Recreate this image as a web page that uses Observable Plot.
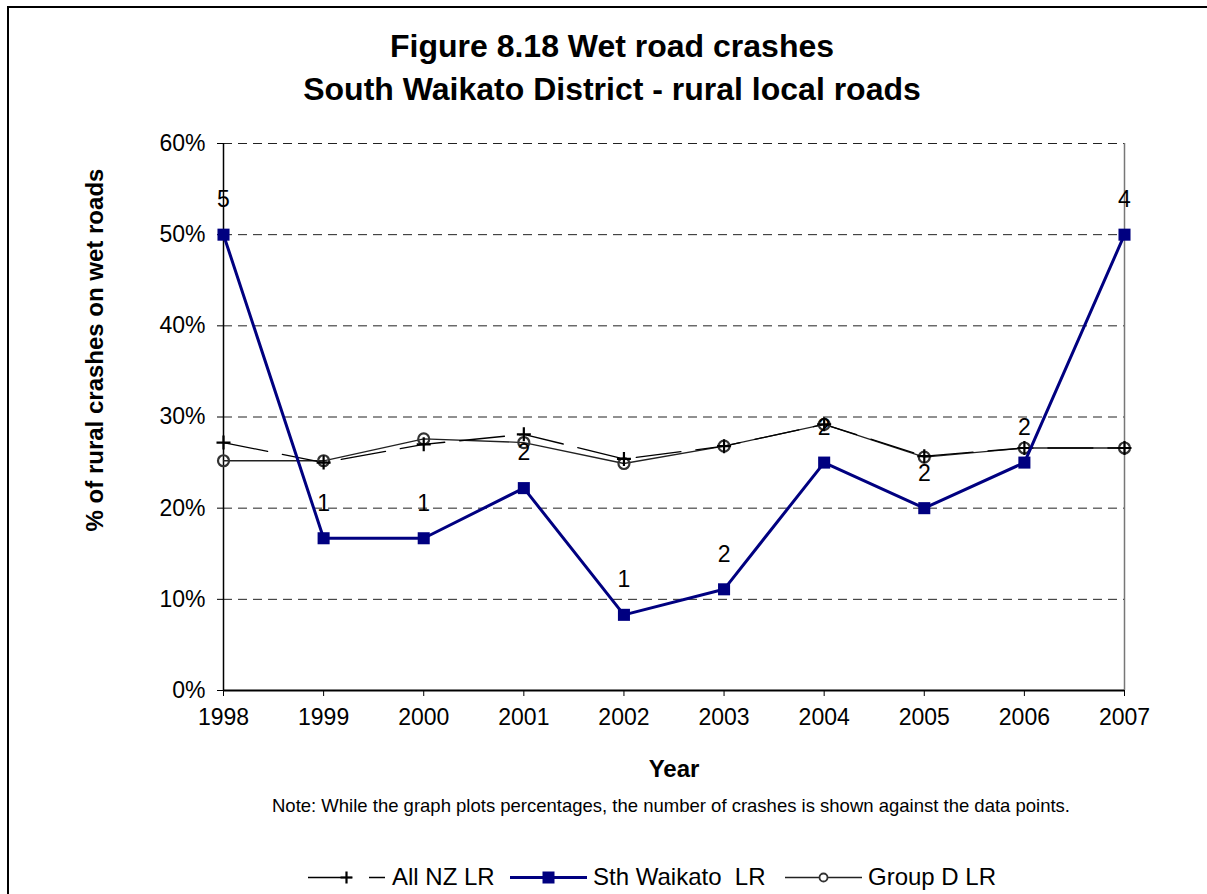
<!DOCTYPE html>
<html>
<head>
<meta charset="utf-8">
<script src="https://cdn.jsdelivr.net/npm/d3@7"></script>
<script src="https://cdn.jsdelivr.net/npm/@observablehq/plot@0.6"></script>
<style>
  html, body { margin: 0; padding: 0; background: #fff; }
  body { width: 1207px; height: 894px; position: relative; overflow: hidden; font-family: "Liberation Sans", Arial, sans-serif; color: #000; }
  #border { position: absolute; left: 7px; top: 6px; width: 1210px; height: 900px; border-left: 2px solid #000; border-top: 2px solid #000; box-sizing: border-box; }
  .title { position: absolute; left: 0; width: 1224px; text-align: center; font-weight: bold; font-size: 32px; line-height: 36px; }
  #chart { position: absolute; left: 0; top: 100px; }
  #note { position: absolute; left: 0; width: 1342px; text-align: center; top: 795px; font-size: 18.5px; line-height: 22px; }
  #legend { position: absolute; top: 863px; left: 0; width: 1207px; height: 28px; font-size: 24px; }
  .li { position: absolute; top: 0; height: 28px; white-space: pre; line-height: 28px; }
</style>
</head>
<body>
<div id="border"></div>
<div class="title" style="top:28px">Figure 8.18 Wet road crashes</div>
<div class="title" style="top:71px">South Waikato District - rural local roads</div>
<div id="chart"></div>
<div id="note">Note:  While the graph plots percentages, the number of crashes is shown against the data points.</div>
<div id="legend"></div>
<script>
const years = [1998, 1999, 2000, 2001, 2002, 2003, 2004, 2005, 2006, 2007];
const allNZ = [27.2, 25.0, 27.0, 28.1, 25.4, 26.8, 29.2, 25.7, 26.6, 26.6];
const sthWaikato = [50, 16.7, 16.7, 22.2, 8.3, 11.1, 25, 20, 25, 50];
const groupD = [25.2, 25.2, 27.6, 27.2, 24.9, 26.8, 29.2, 25.6, 26.6, 26.6];
const crashCounts = [5, 1, 1, 2, 1, 2, 2, 2, 2, 4];
const yTicks = [0, 10, 20, 30, 40, 50, 60];
const seriesNames = ["All NZ LR", "Sth Waikato  LR", "Group D LR"];
const xLabel = "Year";
const yLabel = "% of rural crashes on wet roads";

const rows = (vals) => years.map((y, i) => ({year: y, value: vals[i], count: crashCounts[i]}));
const nzRows = rows(allNZ), swRows = rows(sthWaikato), gdRows = rows(groupD);

const plusSymbol = {
  draw(ctx, size) {
    const r = Math.sqrt(size / Math.PI);
    ctx.moveTo(-r, 0); ctx.lineTo(r, 0);
    ctx.moveTo(0, -r); ctx.lineTo(0, r);
  }
};

const chart = Plot.plot({
  width: 1207, height: 690,
  marginLeft: 223, marginRight: 83, marginTop: 43, marginBottom: 100,
  style: {fontFamily: "'Liberation Sans', Arial, sans-serif", fontSize: "23px", color: "#000", background: "transparent", overflow: "visible"},
  x: {domain: [1998, 2007]},
  y: {domain: [0, 60]},
  marks: [
    Plot.ruleY(yTicks.filter(d => d > 0), {stroke: "#222", strokeWidth: 1, strokeDasharray: "9,6"}),
    Plot.ruleX([2007], {stroke: "#777", strokeWidth: 1.5}),
    Plot.ruleX([1998], {stroke: "#000", strokeWidth: 1.5}),
    Plot.axisY({ticks: yTicks, tickFormat: d => d + "%", tickSize: 6, tickPadding: 12, fontSize: 23, label: null}),
    Plot.axisX({ticks: years, tickFormat: d => String(d), tickSize: 6, tickPadding: 12, fontSize: 23,
      label: xLabel, labelAnchor: "center", labelOffset: 86, labelArrow: "none"}),
    Plot.text([yLabel], {frameAnchor: "left", text: d => d, rotate: -90, dx: -128, dy: -67,
      fontSize: 24, fontWeight: "bold", fill: "#000", textAnchor: "middle", lineAnchor: "middle"}),
    Plot.ruleY([0], {stroke: "#000", strokeWidth: 2}),
    // Group D LR
    Plot.line(gdRows, {x: "year", y: "value", stroke: "#222", strokeWidth: 1.3}),
    // All NZ LR
    Plot.line(nzRows, {x: "year", y: "value", stroke: "#000", strokeWidth: 1.3, strokeDasharray: "45,15"}),
    Plot.dot(gdRows, {x: "year", y: "value", r: 5.5, stroke: "#333", strokeWidth: 2.2, fill: "none"}),
    Plot.dot(nzRows, {x: "year", y: "value", symbol: plusSymbol, r: 7, stroke: "#000", strokeWidth: 2.2, fill: "none"}),
    // Sth Waikato LR
    Plot.line(swRows, {x: "year", y: "value", stroke: "#000080", strokeWidth: 3}),
    Plot.dot(swRows, {x: "year", y: "value", symbol: "square", r: 6.8, fill: "#000080", stroke: "none"}),
    Plot.text(swRows, {x: "year", y: "value", text: d => String(d.count), dy: -35, fontSize: 23, fill: "#000"})
  ]
});
const xl = chart.querySelector('[aria-label="x-axis label"]');
if (xl) { xl.setAttribute("font-weight", "bold"); xl.setAttribute("font-size", "24"); }
document.getElementById("chart").appendChild(chart);

// Legend
const legend = d3.select("#legend");
const items = [
  {name: seriesNames[0], x: 308, w: 77, text: 392},
  {name: seriesNames[1], x: 510, w: 77, text: 593},
  {name: seriesNames[2], x: 785, w: 77, text: 868}
];
items.forEach((it, i) => {
  const s = legend.append("svg").attr("width", it.w).attr("height", 28)
    .style("position", "absolute").style("left", it.x + "px").style("top", "0px");
  const cy = 14.5, cx = it.w / 2;
  if (i === 0) {
    s.append("line").attr("x1", 0).attr("x2", it.w).attr("y1", cy).attr("y2", cy)
      .attr("stroke", "#000").attr("stroke-width", 1.3).attr("stroke-dasharray", "44,17");
    s.append("path").attr("d", `M${cx - 6},${cy}H${cx + 6}M${cx},${cy - 6}V${cy + 6}`)
      .attr("stroke", "#000").attr("stroke-width", 2.2);
  } else if (i === 1) {
    s.append("line").attr("x1", 0).attr("x2", it.w).attr("y1", cy).attr("y2", cy)
      .attr("stroke", "#000080").attr("stroke-width", 3);
    s.append("rect").attr("x", cx - 6).attr("y", cy - 6).attr("width", 12).attr("height", 12).attr("fill", "#000080");
  } else {
    s.append("line").attr("x1", 0).attr("x2", it.w).attr("y1", cy).attr("y2", cy)
      .attr("stroke", "#222").attr("stroke-width", 1.3);
    s.append("circle").attr("cx", cx).attr("cy", cy).attr("r", 4).attr("fill", "#fff").attr("stroke", "#333").attr("stroke-width", 1.8);
  }
  legend.append("div").attr("class", "li").style("left", it.text + "px").text(it.name);
});
</script>
</body>
</html>
